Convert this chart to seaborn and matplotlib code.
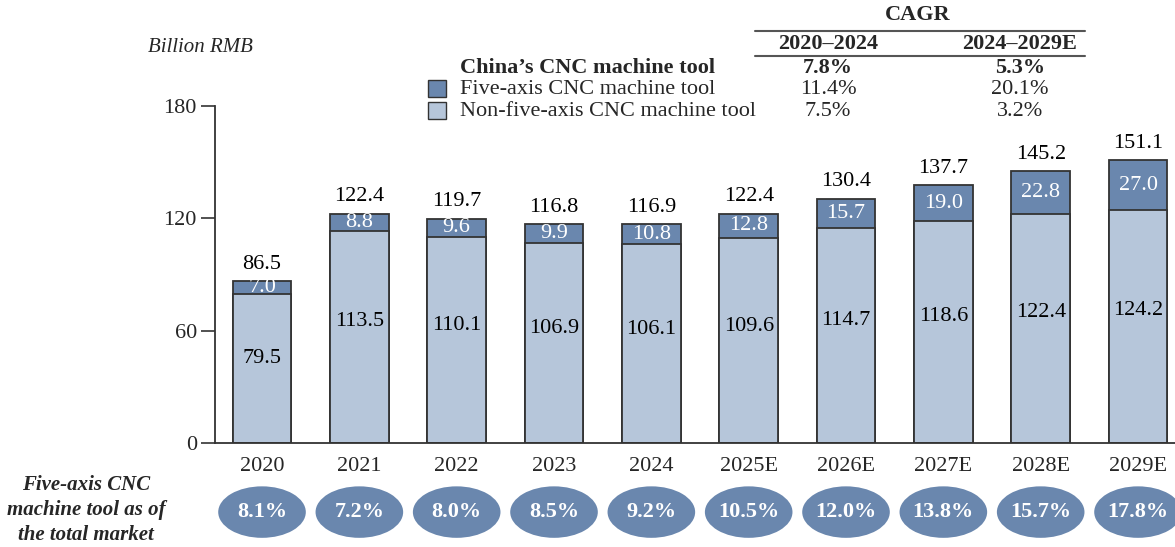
import matplotlib
matplotlib.use("Agg")
import matplotlib.pyplot as plt
import seaborn as sns
import pandas as pd
from matplotlib.patches import Ellipse, Rectangle
from matplotlib.lines import Line2D

years = ["2020", "2021", "2022", "2023", "2024", "2025E", "2026E", "2027E", "2028E", "2029E"]
non_five = [79.5, 113.5, 110.1, 106.9, 106.1, 109.6, 114.7, 118.6, 122.4, 124.2]
five_axis = [7.0, 8.8, 9.6, 9.9, 10.8, 12.8, 15.7, 19.0, 22.8, 27.0]
totals = [86.5, 122.4, 119.7, 116.8, 116.9, 122.4, 130.4, 137.7, 145.2, 151.1]
share = ["8.1%", "7.2%", "8.0%", "8.5%", "9.2%", "10.5%", "12.0%", "13.8%", "15.7%", "17.8%"]
cagr_rows = ["China\u2019s CNC machine tool", "Five-axis CNC machine tool", "Non-five-axis CNC machine tool"]
cagr_2020_2024 = ["7.8%", "11.4%", "7.5%"]
cagr_2024_2029 = ["5.3%", "20.1%", "3.2%"]
yticks = [0, 60, 120, 180]

sns.set_theme(style="white")
plt.rcParams['font.family'] = ['Liberation Serif', 'DejaVu Serif']

DARK = "#6A87AE"
LIGHT = "#B6C6DA"
EDGE = "#333333"
FS = 16

fig = plt.figure(figsize=(11.75, 5.47), dpi=100)
W, H = 1175, 547
ax = fig.add_axes([215 / W, (547 - 443) / H, (1175 - 215) / W, 337 / H])

df = pd.DataFrame({"year": years, "total": totals, "non": non_five})
sns.barplot(data=df, x="year", y="total", color=DARK, edgecolor=EDGE, linewidth=1.3,
            width=0.6, saturation=1, ax=ax)
sns.barplot(data=df, x="year", y="non", color=LIGHT, edgecolor=EDGE, linewidth=1.3,
            width=0.6, saturation=1, ax=ax)

ax.set_xlim(-0.483, 9.38)
ax.set_ylim(0, 180)
ax.set_yticks(yticks)
ax.set_yticklabels([str(t) for t in yticks], fontsize=FS)
ax.set_xlabel("")
ax.set_ylabel("")
ax.tick_params(axis="y", direction="out", length=10, width=1.2, color=EDGE, pad=3, left=True)
ax.tick_params(axis="x", length=0, pad=10, labelsize=FS)
for s in ["top", "right"]:
    ax.spines[s].set_visible(False)
for s in ["left", "bottom"]:
    ax.spines[s].set_color(EDGE)
    ax.spines[s].set_linewidth(1.3)

for i in range(len(years)):
    ax.text(i, totals[i] + 4, f"{totals[i]:.1f}", ha="center", va="bottom", fontsize=FS, color="black")
    ax.text(i, non_five[i] + five_axis[i] / 2, f"{five_axis[i]:.1f}", ha="center", va="center",
            fontsize=FS, color="white")
    ax.text(i, non_five[i] * 0.57, f"{non_five[i]:.1f}", ha="center", va="center", fontsize=FS, color="black")
    e = Ellipse((i, -36.9), 0.9, 27.5, facecolor=DARK, edgecolor="none", clip_on=False)
    ax.add_patch(e)
    ax.text(i, -36.9, share[i], ha="center", va="center", fontsize=FS, fontweight="bold",
            color="white", clip_on=False)

# left label
fig.text(86 / W, 1 - 510 / H, "Five-axis CNC\nmachine tool as of\nthe total market", ha="center", va="center",
         fontsize=15, fontstyle="italic", fontweight="bold", linespacing=1.3)
fig.text(148 / W, 1 - 48 / H, "Billion RMB", ha="left", va="center", fontsize=15, fontstyle="italic")

# legend + CAGR table
def fy(p):
    return 1 - p / H

row_y = [68, 89, 111]
fig.text(460 / W, fy(row_y[0]), cagr_rows[0], ha="left", va="center", fontsize=FS, fontweight="bold")
fig.text(460 / W, fy(row_y[1]), cagr_rows[1], ha="left", va="center", fontsize=FS)
fig.text(460 / W, fy(row_y[2]), cagr_rows[2], ha="left", va="center", fontsize=FS)
for yy, col in [(row_y[1], DARK), (row_y[2], LIGHT)]:
    fig.patches.append(Rectangle((428 / W, fy(yy + 8)), 18 / W, 17 / H, transform=fig.transFigure,
                                 facecolor=col, edgecolor=EDGE, linewidth=1.0))
c1, c2 = 828, 1020
fig.text(918 / W, fy(15), "CAGR", ha="center", va="center", fontsize=FS, fontweight="bold")
fig.lines.append(Line2D([755 / W, 1085 / W], [fy(31), fy(31)], transform=fig.transFigure, color="#555555", lw=1.5))
fig.text(c1 / W, fy(44), "2020\u20132024", ha="center", va="center", fontsize=FS, fontweight="bold")
fig.text(c2 / W, fy(44), "2024\u20132029E", ha="center", va="center", fontsize=FS, fontweight="bold")
fig.lines.append(Line2D([755 / W, 1085 / W], [fy(56), fy(56)], transform=fig.transFigure, color="#555555", lw=1.5))
for k in range(3):
    w = "bold" if k == 0 else "normal"
    fig.text(c1 / W, fy(row_y[k]), cagr_2020_2024[k], ha="center", va="center", fontsize=FS, fontweight=w)
    fig.text(c2 / W, fy(row_y[k]), cagr_2024_2029[k], ha="center", va="center", fontsize=FS, fontweight=w)

fig.savefig("out.png", dpi=100, facecolor="white")
